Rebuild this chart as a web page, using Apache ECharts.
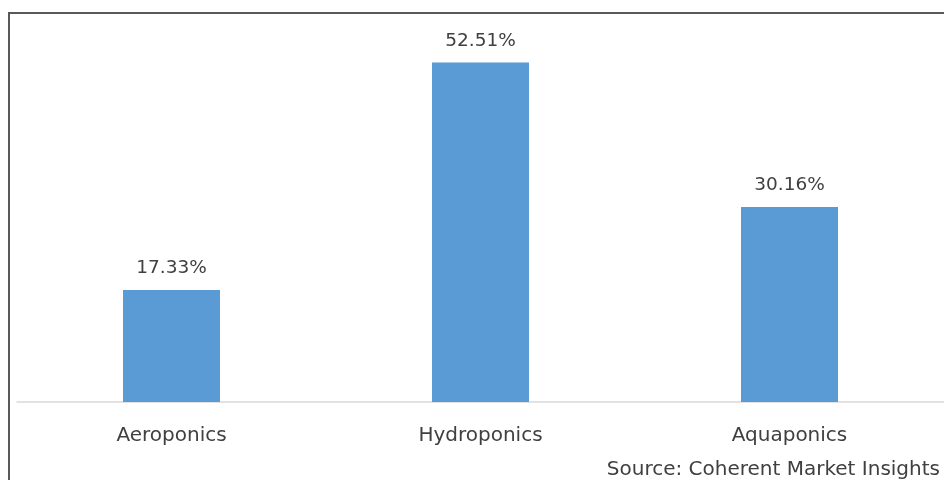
<!DOCTYPE html>
<html>
<head>
<meta charset="utf-8">
<script src="https://cdn.jsdelivr.net/npm/echarts@6/dist/echarts.min.js"></script>
<style>
  html, body { margin: 0; padding: 0; background: #fff; }
  #chart { width: 944px; height: 480px; }
</style>
</head>
<body>
<div id="chart"></div>
<script>
// Market share by growing technique (%)
const categories = ['Aeroponics', 'Hydroponics', 'Aquaponics'];
const shares = [17.33, 52.51, 30.16];
const sourceNote = 'Source: Coherent Market Insights';

const FONT = '"DejaVu Sans", sans-serif';
const TEXT = '#404040';

const chart = echarts.init(document.getElementById('chart'), null, { renderer: 'canvas' });
chart.setOption({
  animation: false,
  backgroundColor: '#ffffff',
  grid: { left: 17, right: -3, top: 14, bottom: 78, containLabel: false },
  xAxis: {
    type: 'category',
    data: categories,
    axisLine: { show: true, lineStyle: { color: '#d9d9d9', width: 1.5 } },
    axisTick: { show: false },
    axisLabel: { color: TEXT, fontFamily: FONT, fontSize: 20, margin: 24 }
  },
  yAxis: {
    type: 'value',
    min: 0,
    max: 60,
    show: false,
    splitLine: { show: false }
  },
  series: [{
    type: 'bar',
    data: shares,
    barWidth: 97,
    itemStyle: { color: '#5b9bd5' },
    label: {
      show: true,
      position: 'top',
      distance: 12,
      color: TEXT,
      fontFamily: FONT,
      fontSize: 18.5,
      formatter: p => p.value.toFixed(2) + '%'
    }
  }],
  graphic: [
    { type: 'line', shape: { x1: 9, y1: 13, x2: 9, y2: 480 }, style: { stroke: '#595959', lineWidth: 2 } },
    { type: 'line', shape: { x1: 8, y1: 13, x2: 944, y2: 13 }, style: { stroke: '#595959', lineWidth: 2 } },
    {
      type: 'text', right: 4, top: 460,
      style: { text: sourceNote, fill: TEXT, font: '20px ' + FONT, textAlign: 'right' }
    }
  ]
});
</script>
</body>
</html>
